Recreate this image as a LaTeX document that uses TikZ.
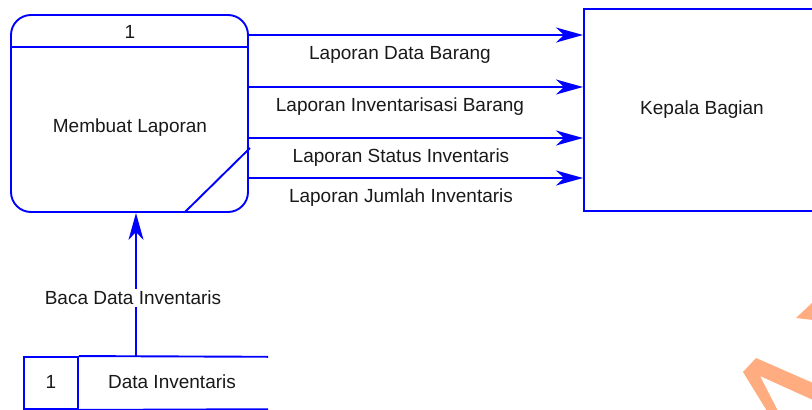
\documentclass[tikz,border=0pt]{standalone}
\usepackage{fontspec}
\setmainfont{Liberation Sans}
\usetikzlibrary{arrows.meta}
\definecolor{dfdblue}{RGB}{0,0,255}
\definecolor{wmorange}{RGB}{255,172,128}
\begin{document}
\begin{tikzpicture}[x=1pt,y=-1pt,
  blueline/.style={draw=dfdblue, line width=1.9pt},
  flow/.style={draw=dfdblue, line width=1.9pt, -{Stealth[length=27pt,width=15pt,inset=8pt]}},
  lbl/.style={font=\fontsize{19}{22}\selectfont, text=black!90, inner sep=1pt},
  procbox/.style={blueline, rectangle, rounded corners=20pt, minimum width=237pt, minimum height=197pt, inner sep=0pt},
  entbox/.style={blueline, rectangle, minimum width=260pt, minimum height=202pt, inner sep=0pt, anchor=north west},
  storebox/.style={rectangle, minimum height=52pt, inner sep=0pt}
]
\useasboundingbox (0,0) rectangle (812,410);
\clip (0,0) rectangle (812,410);
% watermark fragment
\fill[wmorange] (767,411) -- (743,372) -- (756,358) -- (813,383) -- (813,400) -- (760,376) -- (778,411) -- cycle;
\fill[wmorange] (796,318) -- (813,302) -- (813,320) -- cycle;

% process
\node[procbox] (proc) at (129.5,113.5) {};
\node[lbl] (pnum) at (130,32) {1};
\node[lbl] (pname) at (130,128) {Membuat Laporan};
\draw[blueline] (proc.west |- 0,47) -- (proc.east |- 0,47);
\draw[blueline] (185,212) -- (250,148);

% external entity
\node[entbox] (kb) at (583,8) {};
\node[lbl] (kbtext) at (702,110) {Kepala Bagian};

% flows
\coordinate (y1) at (0,35);
\coordinate (y2) at (0,87);
\coordinate (y3) at (0,138);
\coordinate (y4) at (0,178);
\draw[flow] (proc.east |- y1) -- (kb.west |- y1);
\draw[flow] (proc.east |- y2) -- (kb.west |- y2);
\draw[flow] (proc.east |- y3) -- (kb.west |- y3);
\draw[flow] (proc.east |- y4) -- (kb.west |- y4);
\node[lbl] (l1) at (400,55) {Laporan Data Barang};
\node[lbl] (l2) at (400,107) {Laporan Inventarisasi Barang};
\node[lbl] (l3) at (401,158) {Laporan Status Inventaris};
\node[lbl] (l4) at (401,198) {Laporan Jumlah Inventaris};

% data store
\node[storebox, blueline, minimum width=54pt] (dsid) at (51,383) {};
\node[lbl] (dsidtext) at (51,382) {1};
\node[storebox, minimum width=190pt] (ds) at (173,383) {};
\node[lbl] (dstext) at (172,382) {Data Inventaris};
\draw[blueline] (dsid.north east) -- (ds.north east);
\draw[blueline] (dsid.south east) -- (ds.south east);

% read flow
\coordinate (ax) at (136,0);
\draw[flow] (ds.north -| ax) -- (proc.south -| ax);
\node[lbl, fill=white, inner sep=2pt] (lread) at (133,298) {Baca Data Inventaris};
\end{tikzpicture}
\end{document}
